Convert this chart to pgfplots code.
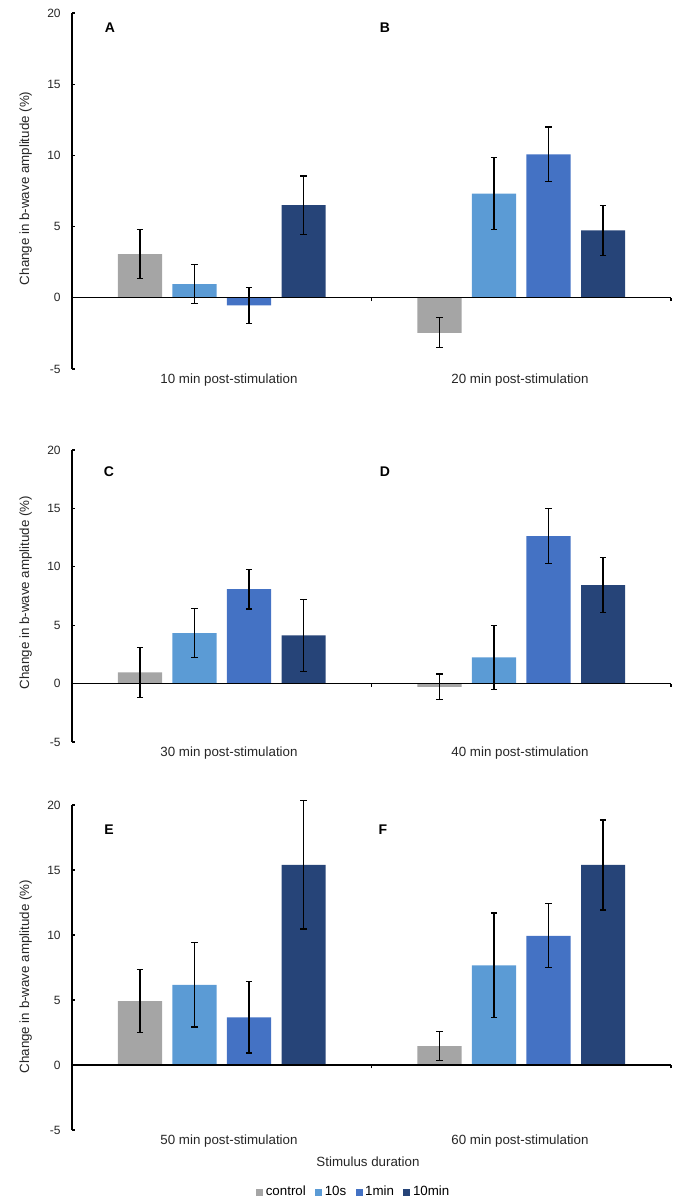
\documentclass[border=0pt]{standalone}
\usepackage{fontspec}
\setmainfont{Liberation Sans}
\usepackage{pgfplots}
\pgfplotsset{compat=1.18}

\definecolor{ctrl}{HTML}{A5A5A5}
\definecolor{sten}{HTML}{5B9BD5}
\definecolor{mone}{HTML}{4472C4}
\definecolor{mten}{HTML}{264478}

\pgfplotsset{
  panel/.style={
    scale only axis, width=449.25pt,
    xmin=-0.5, xmax=1.5, ymin=-5, ymax=20,
    ytick={-5,0,5,10,15,20},
    xtick={0.5,1.5}, xticklabels={},
    axis x line*=middle, axis y line*=left,
    axis on top,
    tick align=inside, major tick length=2.5pt,
    axis line style={black, line width=0.9pt},
    every tick/.style={black, line width=0.9pt},
    yticklabel style={font=\fontsize{9}{10}\selectfont, color=black!85, xshift=-5pt},
    /pgf/number format/assume math mode=true,
    ybar, bar width=0.147,
    error bars/y dir=both, error bars/y explicit,
    error bars/error bar style={black, line width=0.9pt},
    error bars/error mark options={rotate=90, mark size=2.4pt, line width=0.9pt, black},
    legend image code/.code={\fill[##1] (0pt,-2.6pt) rectangle (5.2pt,2.6pt);},
    clip=false,
  },
  ctrlbar/.style={fill=ctrl, draw=none, bar shift=-0.273},
  stenbar/.style={fill=sten, draw=none, bar shift=-0.091},
  monebar/.style={fill=mone, draw=none, bar shift=0.091},
  mtenbar/.style={fill=mten, draw=none, bar shift=0.273},
}

\begin{document}
\begin{tikzpicture}
\useasboundingbox (0,0) rectangle (513.75pt,898.5pt);

% row 1: 10 and 20 min
\begin{axis}[panel, height=267pt, at={(54pt,621.75pt)}, anchor=south west]
\addplot[ctrlbar] coordinates {(0,3.07) +- (0,1.70) (1,-2.46) +- (0,1.05)};
\addplot[stenbar] coordinates {(0,0.96) +- (0,1.35) (1,7.31) +- (0,2.54)};
\addplot[monebar] coordinates {(0,-0.54) +- (0,1.27) (1,10.07) +- (0,1.93)};
\addplot[mtenbar] coordinates {(0,6.51) +- (0,2.04) (1,4.73) +- (0,1.77)};
\end{axis}

% row 2: 30 and 40 min
\begin{axis}[panel, height=219pt, at={(54pt,342pt)}, anchor=south west]
\addplot[ctrlbar] coordinates {(0,0.97) +- (0,2.15) (1,-0.28) +- (0,1.10)};
\addplot[stenbar] coordinates {(0,4.33) +- (0,2.10) (1,2.25) +- (0,2.73)};
\addplot[monebar] coordinates {(0,8.09) +- (0,1.70) (1,12.62) +- (0,2.35)};
\addplot[mtenbar] coordinates {(0,4.13) +- (0,3.10) (1,8.43) +- (0,2.35)};
\end{axis}

% row 3: 50 and 60 min
\begin{axis}[panel, height=243.75pt, at={(54pt,51pt)}, anchor=south west,
  legend columns=-1,
  legend style={at={(0.471,-0.191)}, anchor=center, draw=none, fill=none,
    font=\fontsize{10}{12}\selectfont, inner sep=0pt,
    /tikz/every even column/.append style={column sep=5pt}},
]
\addplot[ctrlbar] coordinates {(0,4.92) +- (0,2.42) (1,1.46) +- (0,1.10)};
\addlegendentry{control}
\addplot[stenbar] coordinates {(0,6.17) +- (0,3.24) (1,7.66) +- (0,4.03)};
\addlegendentry{10s}
\addplot[monebar] coordinates {(0,3.66) +- (0,2.74) (1,9.94) +- (0,2.46)};
\addlegendentry{1min}
\addplot[mtenbar] coordinates {(0,15.39) +- (0,4.93) (1,15.39) +- (0,3.46)};
\addlegendentry{10min}
\end{axis}

% text placed in pixel units of the reference (origin top left)
\begin{scope}[x=0.75pt, y=-0.75pt, shift={(0pt,898.5pt)}]
  \begin{scope}[every node/.style={font=\fontsize{10.5}{12}\selectfont\bfseries}]
    \node at (110,28) {A};  \node at (385,28) {B};
    \node at (109,472) {C}; \node at (385,472) {D};
    \node at (109,830) {E}; \node at (383,830) {F};
  \end{scope}
  \begin{scope}[every node/.style={font=\fontsize{10}{12}\selectfont, text=black!85}]
    \node at (229,380) {10 min post-stimulation};
    \node at (520,380) {20 min post-stimulation};
    \node at (229,753) {30 min post-stimulation};
    \node at (520,753) {40 min post-stimulation};
    \node at (229,1141) {50 min post-stimulation};
    \node at (520,1141) {60 min post-stimulation};
    \node at (368,1162) {Stimulus duration};
    \node[rotate=90] at (25.8,188.3) {Change in b-wave amplitude (\%)};
    \node[rotate=90] at (25.8,592.5) {Change in b-wave amplitude (\%)};
    \node[rotate=90] at (25.8,976.7) {Change in b-wave amplitude (\%)};
  \end{scope}
\end{scope}
\end{tikzpicture}
\end{document}
